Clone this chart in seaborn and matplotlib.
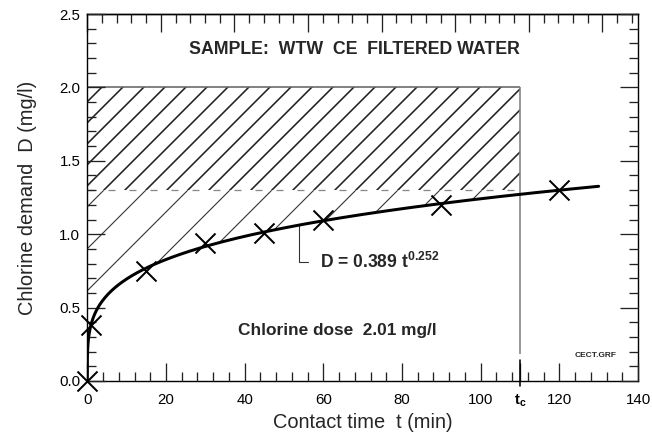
import numpy as np
import pandas as pd
import matplotlib
matplotlib.use("Agg")
import matplotlib.pyplot as plt
import seaborn as sns
from matplotlib.ticker import MultipleLocator

# ---------------- data ----------------
t_obs = [0, 1, 15, 30, 45, 60, 90, 120]          # contact time (min)
D_obs = [0.0, 0.38, 0.75, 0.94, 1.01, 1.10, 1.20, 1.30]  # chlorine demand (mg/l)
fit_a = 0.389          # D = a * t^b
fit_b = 0.252
fit_t_max = 130
t_c = 110              # critical contact time
D_level = 1.30         # demand level (dashed line)
dose = 2.01            # chlorine dose (mg/l)
x_ticks = [0, 20, 40, 60, 80, 100, 120, 140]
x_ticklabels = ["0", "20", "40", "60", "80", "100", "120", "140"]
y_ticks = [0.0, 0.5, 1.0, 1.5, 2.0, 2.5]
y_ticklabels = ["0.0", "0.5", "1.0", "1.5", "2.0", "2.5"]
title_text = "SAMPLE:  WTW  CE  FILTERED WATER"
file_tag = "CECT.GRF"

# ---------------- style ----------------
DPI = 126
def P(px):
    return px * 72.0 / DPI

sns.set_style("ticks")
plt.rcParams["font.family"] = ["Liberation Sans", "DejaVu Sans"]
plt.rcParams["mathtext.fontset"] = "custom"
plt.rcParams["mathtext.rm"] = "Liberation Sans"
plt.rcParams["mathtext.bf"] = "Liberation Sans:bold"
plt.rcParams["mathtext.it"] = "Liberation Sans:italic"
plt.rcParams["axes.axisbelow"] = False

fig = plt.figure(figsize=(652 / DPI, 436 / DPI), dpi=DPI)
ax = fig.add_axes([87.3 / 652, 55 / 436, 550.7 / 652, 367 / 436])

# fitted curve from the chart's equation
t_fit = np.concatenate([[0.0], np.geomspace(1e-5, 1, 80), np.linspace(1, fit_t_max, 300)[1:]])
D_fit = fit_a * t_fit ** fit_b
df_fit = pd.DataFrame({"t": t_fit, "D": D_fit})
df_obs = pd.DataFrame({"t": t_obs, "D": D_obs})

ax.set_xlim(x_ticks[0], x_ticks[-1])
ax.set_ylim(y_ticks[0], y_ticks[-1])

# hatched regions
with plt.rc_context({"hatch.linewidth": P(1.6)}):
    ax.fill_between([0, t_c], D_level, 2.0, facecolor="none", edgecolor="#222222",
                    hatch="//", linewidth=0, zorder=1)
with plt.rc_context({"hatch.linewidth": P(1.1)}):
    m = t_fit <= t_c
    ax.fill_between(t_fit[m], D_fit[m], D_level, facecolor="none", edgecolor="#333333",
                    hatch="/", linewidth=0, zorder=1)

# region borders
ax.hlines(2.0, 0, t_c, color="#666666", lw=P(1.6), zorder=2)
ax.vlines(t_c, 0.185, 2.0, color="#808080", lw=P(1.6), zorder=2)
ax.hlines(D_level, 0, t_c, color="#888888", lw=P(1.3),
          linestyles=(0, (P(7) / P(1.3), P(14) / P(1.3))), zorder=2)

# curve and points
sns.lineplot(data=df_fit, x="t", y="D", ax=ax, color="black", lw=P(3), sort=False,
             estimator=None, zorder=4)
sns.scatterplot(data=df_obs, x="t", y="D", ax=ax, marker="x", s=P(20) ** 2,
                color="black", linewidth=P(2), zorder=5, clip_on=False)

# leader line to equation
t_lead = 53.9
D_lead = fit_a * t_lead ** fit_b
ax.plot([t_lead, t_lead, 56.1], [D_lead, 0.808, 0.808], color="#333333", lw=P(1.1), zorder=3)

# texts
ax.text(25.9, 2.228, title_text, fontsize=P(17.7), fontweight="bold", ha="left", va="baseline")
ax.text(59.1, 0.768, r"D = %.3f t$^{\mathbf{%.3f}}$" % (fit_a, fit_b), fontsize=P(17.5),
        fontweight="bold", ha="left", va="baseline")
ax.text(38.4, 0.313, "Chlorine dose  %.2f mg/l" % dose, fontsize=P(17.3), fontweight="bold",
        ha="left", va="baseline")
ax.text(123.8, 0.166, file_tag, fontsize=P(8.4), fontweight="bold", ha="left", va="baseline")

# axes labels
ax.set_xlabel("Contact time  t (min)", fontsize=P(20), labelpad=P(4))
ax.set_ylabel("Chlorine demand  D (mg/l)", fontsize=P(20), labelpad=P(22))

# ticks
ax.set_xticks(x_ticks + [t_c])
ax.set_xticklabels(x_ticklabels + [r"$\mathbf{t_c}$"])
ax.set_yticks(y_ticks)
ax.set_yticklabels(y_ticklabels)
ax.xaxis.set_minor_locator(MultipleLocator(4))
ax.yaxis.set_minor_locator(MultipleLocator(0.1))
ax.tick_params(axis="both", which="both", direction="in", bottom=True, left=True, right=True,
               top=False, colors="#222222", labelcolor="black", width=0.75, labelsize=P(15))
ax.tick_params(which="major", length=P(18))
ax.tick_params(which="minor", length=P(9))
ax.tick_params(axis="x", which="major", pad=P(12))
ax.tick_params(axis="y", which="major", pad=P(7))
ax.axvline(t_c, ymin=-5 / 367, ymax=21 / 367, color="black", lw=0.9, clip_on=False, zorder=6)

# top axis ticks (spacing as in the original drawing)
top_step = 18.71
sec = ax.secondary_xaxis("top")
sec.xaxis.set_major_locator(MultipleLocator(top_step))
sec.xaxis.set_minor_locator(MultipleLocator(top_step / 5))
sec.tick_params(axis="x", which="both", direction="in", labeltop=False, colors="#222222",
                width=0.75)
sec.tick_params(which="major", length=P(18))
sec.tick_params(which="minor", length=P(9))

for s in list(ax.spines.values()) + [sec.spines["top"]]:
    s.set_linewidth(0.8)
    s.set_color("black")

fig.savefig("out.png", dpi=DPI)
